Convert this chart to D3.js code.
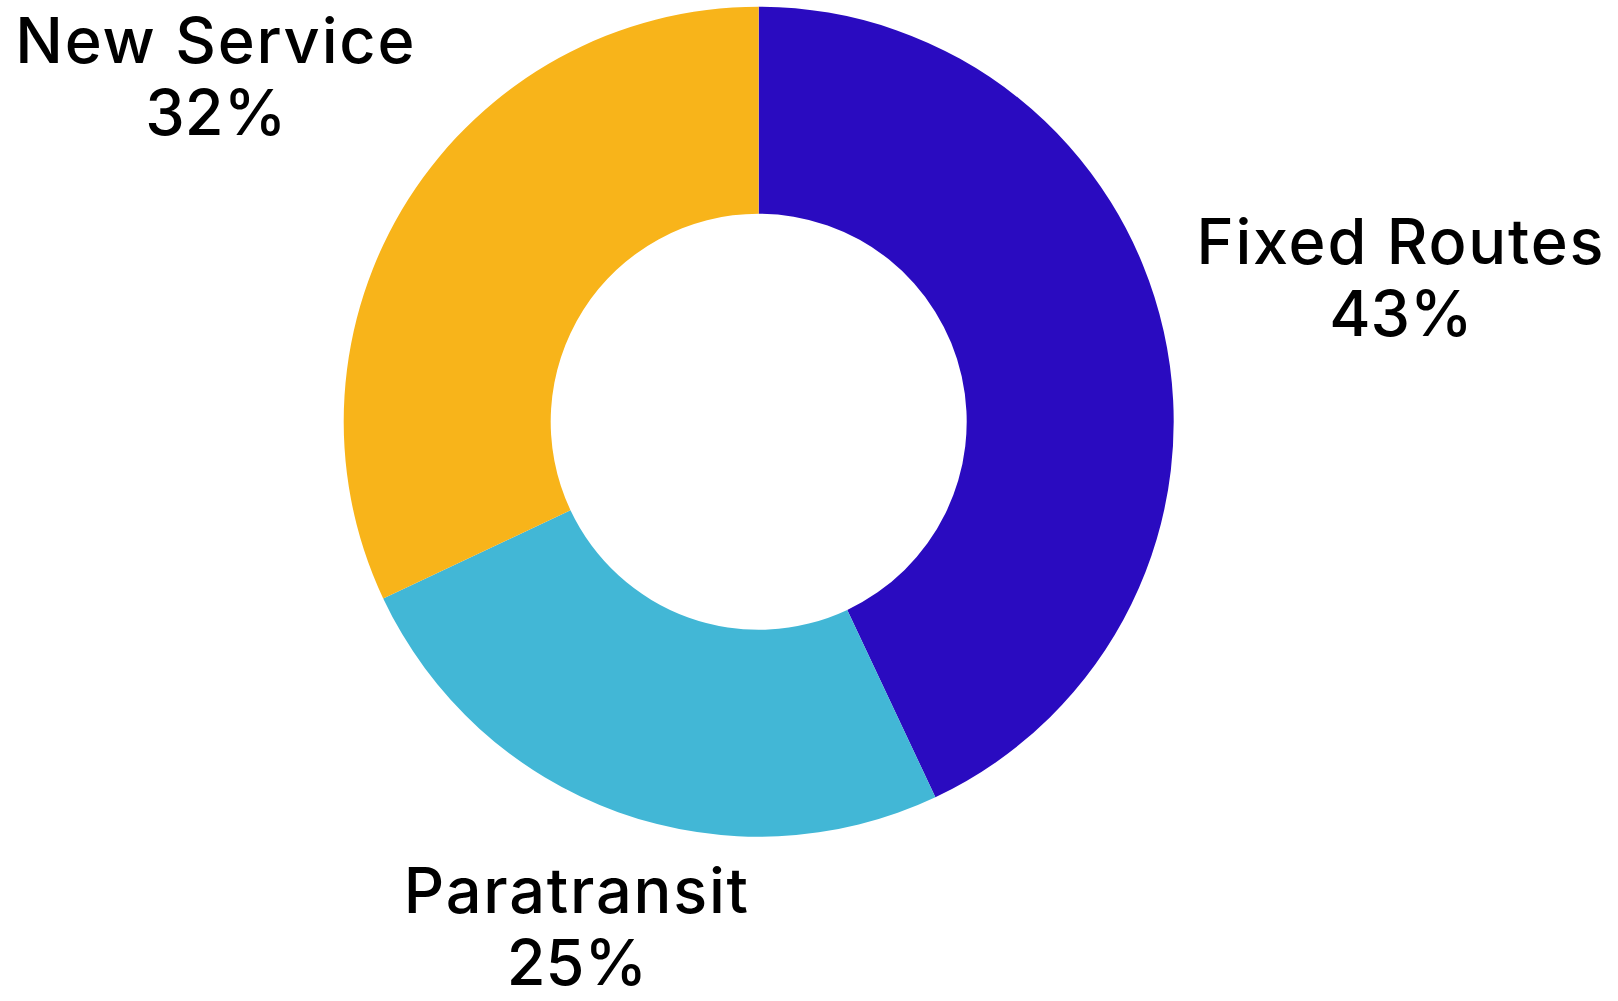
<!DOCTYPE html>
<html>
<head>
<meta charset="utf-8">
<script src="https://cdn.jsdelivr.net/npm/d3@7"></script>
<style>
	body{margin:0;background:#fff;}
	.label{font-family:Inter,"Open Sans",sans-serif;font-weight:500;font-size:63px;fill:#000;}
	.labelName{letter-spacing:1.8px;}
</style>
</head>
<body>
<script>
(function(){
	//chart data
	var categories=["Fixed Routes","Paratransit","New Service"];
	var shares=[43,25,32]; //percent of total
	var colors=["#2a0bc0","#42b7d6","#f8b41a"];

	//layout
	var width=1618,
		height=1001,
		cx=758.7,
		cy=421.7,
		outerR=415,
		innerR=208,
		labelR=[658,537,643]; //distance of each label block from centre

	var svg=d3.select("body")
		.append("svg")
		.attr("width",width)
		.attr("height",height);

	var g=svg.append("g")
		.attr("transform","translate("+cx+","+cy+")");

	//pie layout keeps input order, starting at 12 o'clock
	var pie=d3.pie()
		.sort(null)
		.value(function(d){return d;});

	var arcs=pie(shares);

	var arc=d3.arc()
		.innerRadius(innerR)
		.outerRadius(outerR);

	//donut slices
	g.selectAll(".slice")
		.data(arcs)
		.enter()
		.append("path")
		.attr("class","slice")
		.attr("d",arc)
		.style("fill",function(d,i){return colors[i];});

	//labels sit along each slice's mid angle
	var labels=g.selectAll(".label")
		.data(arcs)
		.enter()
		.append("text")
		.attr("class","label")
		.attr("text-anchor","middle")
		.attr("transform",function(d,i){
			var a=(d.startAngle+d.endAngle)/2;
			var x=labelR[i]*Math.sin(a),
				y=-labelR[i]*Math.cos(a);
			return "translate("+x+","+y+")";
		});

	labels.append("tspan")
		.attr("class","labelName")
		.attr("x",0)
		.attr("y",-14)
		.text(function(d,i){return categories[i];});

	labels.append("tspan")
		.attr("x",0)
		.attr("y",58)
		.text(function(d,i){return shares[i]+"%";});
})();
</script>
</body>
</html>
